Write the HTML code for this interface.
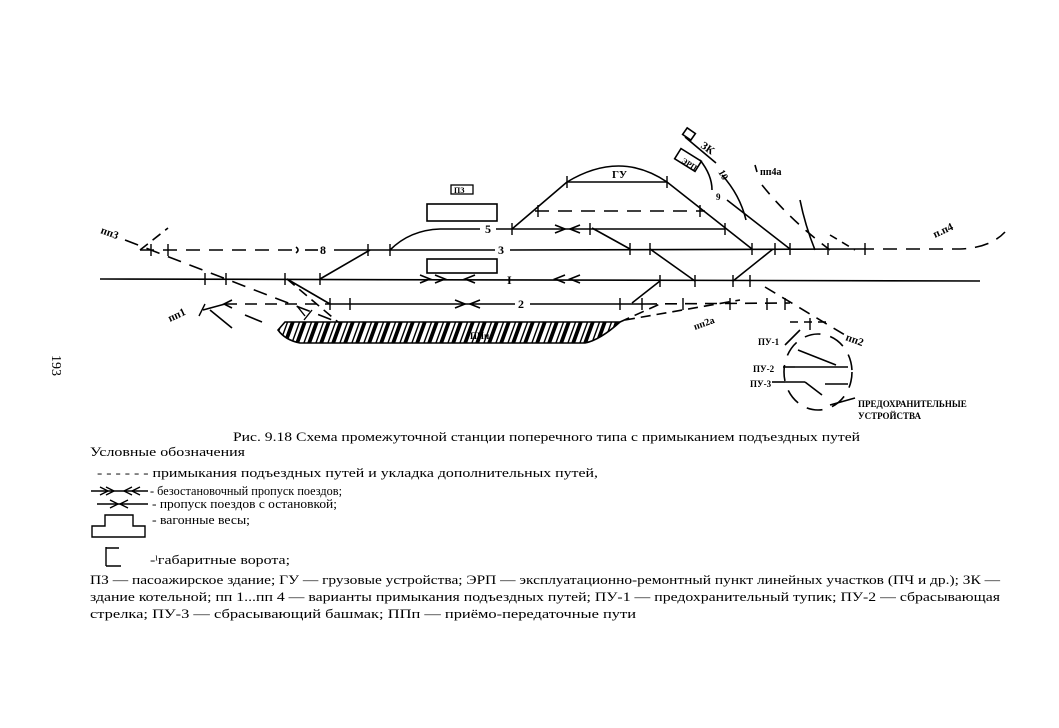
<!DOCTYPE html>
<html><head><meta charset="utf-8"><style>
html,body{margin:0;padding:0;background:#fff;width:1059px;height:728px;overflow:hidden}
svg{display:block}
text{font-family:"Liberation Serif","Noto Serif CJK SC",serif;fill:#000}
.h{font-family:"Liberation Sans","DejaVu Sans",sans-serif;font-weight:bold}
</style></head><body>
<svg width="1059" height="728" viewBox="0 0 1059 728" xmlns="http://www.w3.org/2000/svg">
<defs>
<pattern id="hat" width="12" height="22" patternUnits="userSpaceOnUse" patternTransform="skewX(-20)">
<rect width="12" height="22" fill="#fff"/><rect x="0" y="0" width="4" height="22" fill="#000"/><rect x="8" y="0" width="1.5" height="22" fill="#000"/>
</pattern>
</defs>
<g stroke="#000" stroke-width="1.6" fill="none">
<line x1="100" y1="279" x2="980" y2="281"/>
<line x1="140" y1="250" x2="296" y2="250" stroke-dasharray="14,9"/>
<path d="M296 247 q4 3 0 6"/>
<line x1="305" y1="250" x2="318" y2="250"/>
<line x1="334" y1="250" x2="495" y2="250"/>
<line x1="510" y1="250" x2="860" y2="249"/>
<path d="M860 249 L960 249 Q990 248 1005 232" stroke-dasharray="14,9"/>
<path d="M390 250 Q410 230 440 229 L480 229"/>
<line x1="496" y1="229" x2="725" y2="229"/>
<line x1="535" y1="211" x2="705" y2="211" stroke-dasharray="14,9"/>
<line x1="567" y1="182" x2="667" y2="182"/>
<path d="M567 182 Q620 150 667 182"/>
<line x1="320" y1="279" x2="370" y2="250"/>
<line x1="512" y1="229" x2="567" y2="182"/>
<line x1="667" y1="182" x2="752" y2="249"/>
<line x1="592" y1="228" x2="630" y2="249"/>
<line x1="650" y1="249" x2="695" y2="281"/>
<line x1="733" y1="281" x2="773" y2="249"/>
<line x1="660" y1="281" x2="632" y2="303"/>
<line x1="287" y1="279" x2="330" y2="304"/>
<line x1="727" y1="200" x2="790" y2="249"/>
<line x1="330" y1="304" x2="515" y2="304"/>
<line x1="530" y1="304" x2="645" y2="304"/>
<line x1="645" y1="304" x2="790" y2="303" stroke-dasharray="12,8"/>
<line x1="225" y1="304" x2="330" y2="304" stroke-dasharray="12,8"/>
<line x1="125" y1="240" x2="340" y2="323" stroke-dasharray="14,9"/>
<line x1="140" y1="250" x2="168" y2="228" stroke-dasharray="10,6"/>
<line x1="287" y1="279" x2="338" y2="322" stroke-dasharray="10,6"/>
<line x1="203" y1="310" x2="225" y2="304"/>
<line x1="210" y1="310" x2="232" y2="328"/>
<line x1="245" y1="315" x2="262" y2="322"/>
<path d="M285 322 L620 322 Q600 340 585 343 L300 343 Q285 340 278 330 Z" fill="url(#hat)" stroke="#000"/>
<line x1="620" y1="322" x2="660" y2="304" stroke-dasharray="10,6"/>
<line x1="625" y1="320" x2="740" y2="300" stroke-dasharray="10,6"/>
<rect x="427" y="204" width="70" height="17"/>
<rect x="427" y="259" width="70" height="14"/>
<rect x="451" y="185" width="22" height="9" stroke-width="1.3"/>
<line x1="685" y1="137" x2="716" y2="163"/>
<rect x="-5" y="-4" width="10" height="8" transform="translate(689,134) rotate(35)"/>
<path d="M722 175 Q740 195 746 220"/>
<rect x="-12" y="-6" width="24" height="12" transform="translate(688,160) rotate(32)"/>
<path d="M700 160 Q712 175 712 190"/>
<path d="M757 172 L755 165" />
<path d="M762 185 Q790 220 830 250" stroke-dasharray="12,9"/>
<path d="M800 200 Q805 225 815 250"/>
<path d="M830 235 L855 250" stroke-dasharray="8,6"/>
<line x1="765" y1="287" x2="850" y2="338" stroke-dasharray="12,8"/>
<line x1="790" y1="322" x2="830" y2="322" stroke-dasharray="8,6"/>
<path d="M800 330 L785 345"/>
<ellipse cx="818" cy="372" rx="34" ry="38" stroke-dasharray="16,10"/>
<line x1="798" y1="350" x2="836" y2="365"/>
<line x1="795" y1="367" x2="848" y2="367"/>
<line x1="785" y1="382" x2="805" y2="382"/>
<path d="M805 382 L822 395"/>
<line x1="825" y1="384" x2="848" y2="384"/>
<line x1="783" y1="367" x2="795" y2="367"/>
<line x1="772" y1="382" x2="785" y2="382"/>
<line x1="830" y1="405" x2="855" y2="398"/>
<g stroke-width="1.4">
<path d="M151 244v12 M168 244v12 M205 273v12 M226 273v12 M285 273v12 M320 273v12 M368 244v12 M390 244v12 M512 223v12 M567 176v12 M667 176v12 M538 205v12 M700 205v12 M590 223v12 M725 223v12 M630 243v12 M650 243v12 M752 243v12 M775 243v12 M790 243v12 M828 243v12 M865 243v12 M660 275v12 M695 275v12 M733 275v12 M750 275v12 M330 298v12 M350 298v12 M620 298v12 M642 298v12 M683 298v12 M730 298v12 M767 298v12 M785 298v12 M297 306l8 10 M312 310l-8 10 M205 304l-6 12 M810 318v12"/>
</g>
<g stroke-width="1.6">
<path d="M420 275l10 4-10 4 M435 275l10 4-10 4 M475 275l-10 4 10 4 M455 300l10 4-10 4 M480 300l-10 4 10 4 M555 225l10 4-10 4 M580 225l-10 4 10 4 M565 275l-10 4 10 4 M580 275l-10 4 10 4 M232 300l-8 4 8 4"/>
</g>
</g>
<g class="h" font-size="11">
<text x="320" y="254" font-size="12">8</text>
<text x="485" y="233" font-size="12">5</text>
<text x="498" y="254" font-size="12">3</text>
<text x="507" y="284" font-size="12">I</text>
<text x="518" y="308" font-size="12">2</text>
<text x="612" y="178">ГУ</text>
<text x="454" y="193" font-size="8">ПЗ</text>
<text x="100" y="233" transform="rotate(20 100 233)">пп3</text>
<text x="170" y="322" transform="rotate(-25 170 322)">пп1</text>
<text x="935" y="238" transform="rotate(-25 935 238)">п.п4</text>
<text x="845" y="340" transform="rotate(20 845 340)">пп2</text>
<text x="695" y="330" transform="rotate(-20 695 330)" font-size="10">пп2а</text>
<text x="760" y="175" font-size="10">пп4а</text>
<text x="700" y="147" transform="rotate(35 700 147)">ЗК</text>
<text x="718" y="172" transform="rotate(60 718 172)" font-size="10">10</text>
<text x="681" y="162" transform="rotate(32 681 162)" font-size="8">ЭРП</text>
<text x="716" y="200" font-size="9">9</text>
<text x="470" y="339" font-size="9">ППп</text>
<text x="758" y="345" font-size="9">ПУ-1</text>
<text x="753" y="372" font-size="9">ПУ-2</text>
<text x="750" y="387" font-size="9">ПУ-3</text>
<text x="858" y="407" font-size="9">ПРЕДОХРАНИТЕЛЬНЫЕ</text>
<text x="858" y="419" font-size="9">УСТРОЙСТВА</text>
</g>
<text x="0" y="0" font-size="14" transform="translate(52,355) rotate(90)">193</text>
<g font-size="12.5">
<text x="233" y="441" textLength="627" lengthAdjust="spacingAndGlyphs">Рис. 9.18  Схема промежуточной станции поперечного типа с примыканием подъездных путей</text>
<text x="90" y="456" textLength="155" lengthAdjust="spacingAndGlyphs">Условные обозначения</text>
<text x="97" y="477" textLength="501" lengthAdjust="spacingAndGlyphs">- - - - -    - примыкания подъездных путей и укладка дополнительных путей,</text>
<text x="150" y="495" textLength="192" lengthAdjust="spacingAndGlyphs">- безостановочный пропуск поездов;</text>
<text x="152" y="508" textLength="185" lengthAdjust="spacingAndGlyphs">- пропуск поездов с остановкой;</text>
<text x="152" y="524" textLength="98" lengthAdjust="spacingAndGlyphs">- вагонные весы;</text>
<text x="150" y="564" textLength="140" lengthAdjust="spacingAndGlyphs">-ˡгабаритные ворота;</text>
<text x="90" y="584" textLength="910" lengthAdjust="spacingAndGlyphs">ПЗ — пасоажирское здание; ГУ — грузовые устройства; ЭРП — эксплуатационно-ремонтный пункт линейных участков (ПЧ и др.); ЗК —</text>
<text x="90" y="601" textLength="910" lengthAdjust="spacingAndGlyphs">здание котельной; пп 1...пп 4 — варианты примыкания подъездных путей; ПУ-1 — предохранительный тупик; ПУ-2 — сбрасывающая</text>
<text x="90" y="618" textLength="546" lengthAdjust="spacingAndGlyphs">стрелка; ПУ-3 — сбрасывающий башмак; ППп — приёмо-передаточные пути</text>
</g>
<g stroke="#000" stroke-width="1.4" fill="none">
<line x1="91" y1="491" x2="148" y2="491"/>
<path d="M100 487l8 4-8 4 M106 487l8 4-8 4 M132 487l-8 4 8 4 M140 487l-8 4 8 4"/>
<line x1="97" y1="504" x2="148" y2="504"/>
<path d="M110 500l8 4-8 4 M128 500l-8 4 8 4"/>
<path d="M105 526 V515 H133 V526 H145 V537 H92 V526 Z"/>
<path d="M106 547 V566 M106 566 H121 M106 548 H119"/>
</g>
</svg>
</body></html>
